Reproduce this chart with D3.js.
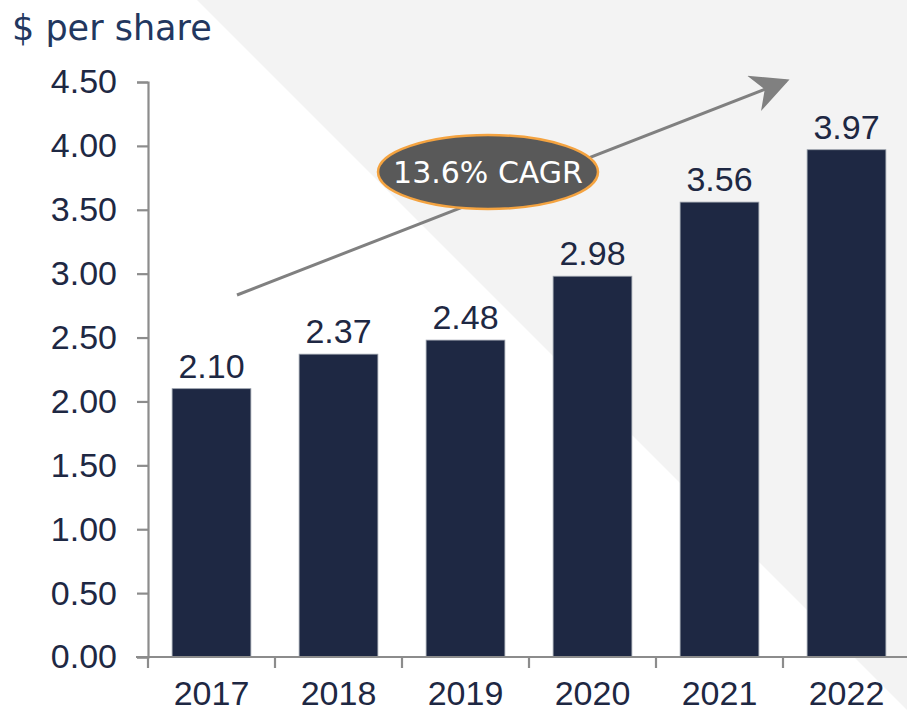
<!DOCTYPE html>
<html>
<head>
<meta charset="utf-8">
<script src="https://cdn.jsdelivr.net/npm/d3@7"></script>
<style>
  html, body { margin: 0; padding: 0; background: #fff; }
  svg { display: block; }
</style>
</head>
<body>
<svg id="chart" width="907" height="712"></svg>
<script>
// data
const years = ["2017", "2018", "2019", "2020", "2021", "2022"];
const values = [2.10, 2.37, 2.48, 2.98, 3.56, 3.97];
const yTicks = [0, 0.5, 1, 1.5, 2, 2.5, 3, 3.5, 4, 4.5];
const unitLabel = "$ per share";
const cagrLabel = "13.6% CAGR";

const W = 907, H = 712;
const svg = d3.select("#chart");
const navy = "#1e2843";
const axisGrey = "#8c8c8c";

// light grey diagonal background
svg.append("polygon")
  .attr("points", [[197, 0], [W, 0], [W, 710]].map(p => p.join(",")).join(" "))
  .attr("fill", "#f3f3f3");

const x = d3.scaleBand().domain(years).range([148, 910]).paddingInner(0.38).paddingOuter(0.19);
const y = d3.scaleLinear().domain([0, 4.5]).range([657, 82]);

// bars
svg.selectAll("rect.bar")
  .data(years)
  .enter()
  .append("rect")
  .attr("class", "bar")
  .attr("x", d => x(d))
  .attr("width", x.bandwidth())
  .attr("y", (d, i) => y(values[i]))
  .attr("height", (d, i) => y(0) - y(values[i]))
  .attr("fill", navy)
  .attr("stroke", "#9aa0ab")
  .attr("stroke-width", 0.8);

// value labels
svg.selectAll("text.val")
  .data(years)
  .enter()
  .append("text")
  .attr("class", "val")
  .attr("x", d => x(d) + x.bandwidth() / 2)
  .attr("y", (d, i) => y(values[i]) - 11)
  .attr("text-anchor", "middle")
  .attr("font-family", "Liberation Sans, Arial, sans-serif")
  .attr("font-size", 34)
  .attr("fill", navy)
  .text((d, i) => values[i].toFixed(2));

// y axis
const yAxis = svg.append("g")
  .attr("transform", "translate(148,0)")
  .call(d3.axisLeft(y).tickValues(yTicks).tickFormat(d3.format(".2f")).tickSize(11).tickPadding(20));
yAxis.select(".domain").attr("stroke", axisGrey).attr("stroke-width", 2.2);
yAxis.selectAll(".tick line").attr("stroke", axisGrey).attr("stroke-width", 2.2);
yAxis.selectAll(".tick text")
  .attr("font-family", "Liberation Sans, Arial, sans-serif")
  .attr("font-size", 34)
  .attr("fill", navy);

// x axis baseline and ticks at band boundaries
const gap = (x.step() - x.bandwidth()) / 2;
svg.append("line")
  .attr("x1", 136).attr("x2", W)
  .attr("y1", y(0)).attr("y2", y(0))
  .attr("stroke", axisGrey).attr("stroke-width", 2.2);
svg.selectAll("line.xtick")
  .data(years)
  .enter()
  .append("line")
  .attr("class", "xtick")
  .attr("x1", d => x(d) - gap).attr("x2", d => x(d) - gap)
  .attr("y1", y(0)).attr("y2", y(0) + 11)
  .attr("stroke", axisGrey).attr("stroke-width", 2.2);
svg.selectAll("text.xlab")
  .data(years)
  .enter()
  .append("text")
  .attr("class", "xlab")
  .attr("x", d => x(d) + x.bandwidth() / 2)
  .attr("y", 705)
  .attr("text-anchor", "middle")
  .attr("font-family", "Liberation Sans, Arial, sans-serif")
  .attr("font-size", 34)
  .attr("fill", navy)
  .text(d => d);

// unit label
svg.append("text")
  .attr("x", 12).attr("y", 40)
  .attr("font-family", "Verdana, DejaVu Sans, sans-serif")
  .attr("font-size", 35)
  .attr("fill", "#22375f")
  .text(unitLabel);

// CAGR arrow
svg.append("defs").append("marker")
  .attr("id", "head")
  .attr("viewBox", "0 0 10 10")
  .attr("refX", 9).attr("refY", 5)
  .attr("markerWidth", 42).attr("markerHeight", 38)
  .attr("markerUnits", "userSpaceOnUse")
  .attr("orient", "auto")
  .append("path")
  .attr("d", "M0,0 L10,5 L0,10 L3,5 Z")
  .attr("fill", "#808080");

svg.append("line")
  .attr("x1", 237).attr("y1", 295)
  .attr("x2", 786).attr("y2", 81)
  .attr("stroke", "#808080")
  .attr("stroke-width", 3)
  .attr("marker-end", "url(#head)");

svg.append("ellipse")
  .attr("cx", 488).attr("cy", 172)
  .attr("rx", 110).attr("ry", 37)
  .attr("fill", "#595959")
  .attr("stroke", "#f4a340")
  .attr("stroke-width", 2.5);

svg.append("text")
  .attr("x", 488).attr("y", 183)
  .attr("text-anchor", "middle")
  .attr("font-family", "Verdana, DejaVu Sans, sans-serif")
  .attr("font-size", 30)
  .attr("fill", "#ffffff")
  .text(cagrLabel);
</script>
</body>
</html>
